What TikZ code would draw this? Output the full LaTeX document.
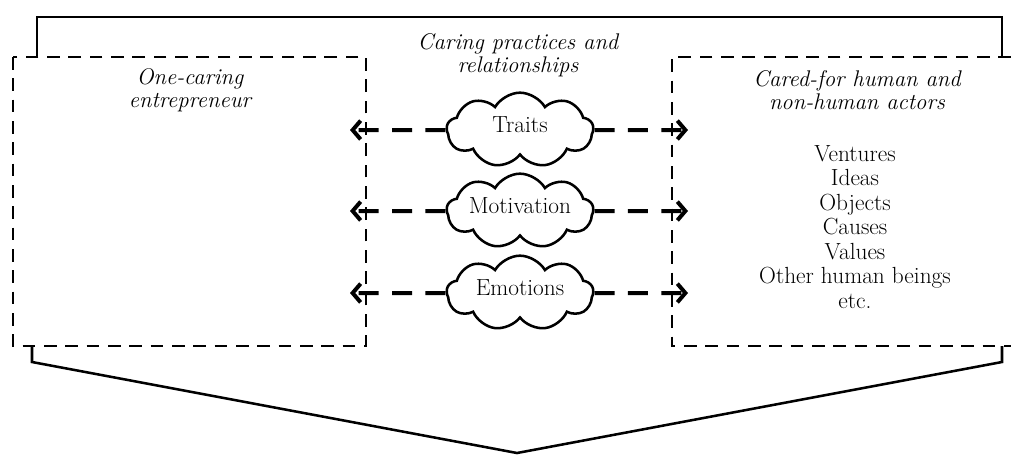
\documentclass[tikz,border=0pt]{standalone}
\usetikzlibrary{shapes.symbols,arrows.meta}
\begin{document}
\begin{tikzpicture}[x=0.75pt,y=-0.75pt,
  solidline/.style={line width=1.9pt},
  boxline/.style={line width=1.9pt, dash pattern=on 9.5pt off 6.5pt},
  arr/.style={line width=3pt, dash pattern=on 15pt off 10pt, -{Straight Barb[length=6pt,width=14pt,line width=3pt]}},
  cloudbox/.style={cloud, cloud puffs=9, cloud puff arc=120, cloud ignores aspect, draw, line width=1.9pt,
    minimum width=110pt, minimum height=56pt, inner sep=0pt, text height=12pt, text depth=9pt,
    font=\fontsize{17.5}{18.4}\selectfont},
  titletext/.style={align=center, inner sep=0pt, font=\itshape\fontsize{17}{17.3}\selectfont},
  listtext/.style={align=center, inner sep=0pt, font=\fontsize{17.5}{18.4}\selectfont}
]
\useasboundingbox (0,0) rectangle (1011,455);
% brackets
\draw[solidline] (37,57) -- (37,17) -- (1002,17) -- (1002,57);
\draw[solidline] (32,346) -- (32,362) -- (517,453) -- (1002,362) -- (1002,346);
% dashed boxes
\draw[boxline] (13,57) rectangle (366,346);
\draw[boxline] (1011,57) -- (672,57) -- (672,346) -- (1011,346);
% texts
\node[titletext] (caring) at (518,55) {Caring practices and\\relationships};
\node[titletext] (onecaring) at (190,90) {One-caring\\entrepreneur};
\node[titletext] (caredfor) at (857,90) {Cared-for human and\\non-human actors};
\node[listtext] (list) at (855,227) {Ventures\\Ideas\\Objects\\Causes\\Values\\Other human beings\\etc.};
% clouds
\node[cloudbox] (traits) at (520,130) {Traits};
\node[cloudbox] (motiv) at (520,211) {Motivation};
\node[cloudbox] (emot) at (520,293) {Emotions};
% arrow ends
\coordinate (l1) at (350,130);
\coordinate (r1) at (688,130);
\coordinate (l2) at (350,211);
\coordinate (r2) at (688,211);
\coordinate (l3) at (350,293);
\coordinate (r3) at (688,293);
\draw[arr] (traits) -- (l1);
\draw[arr] (traits) -- (r1);
\draw[arr] (motiv) -- (l2);
\draw[arr] (motiv) -- (r2);
\draw[arr] (emot) -- (l3);
\draw[arr] (emot) -- (r3);
\end{tikzpicture}
\end{document}
